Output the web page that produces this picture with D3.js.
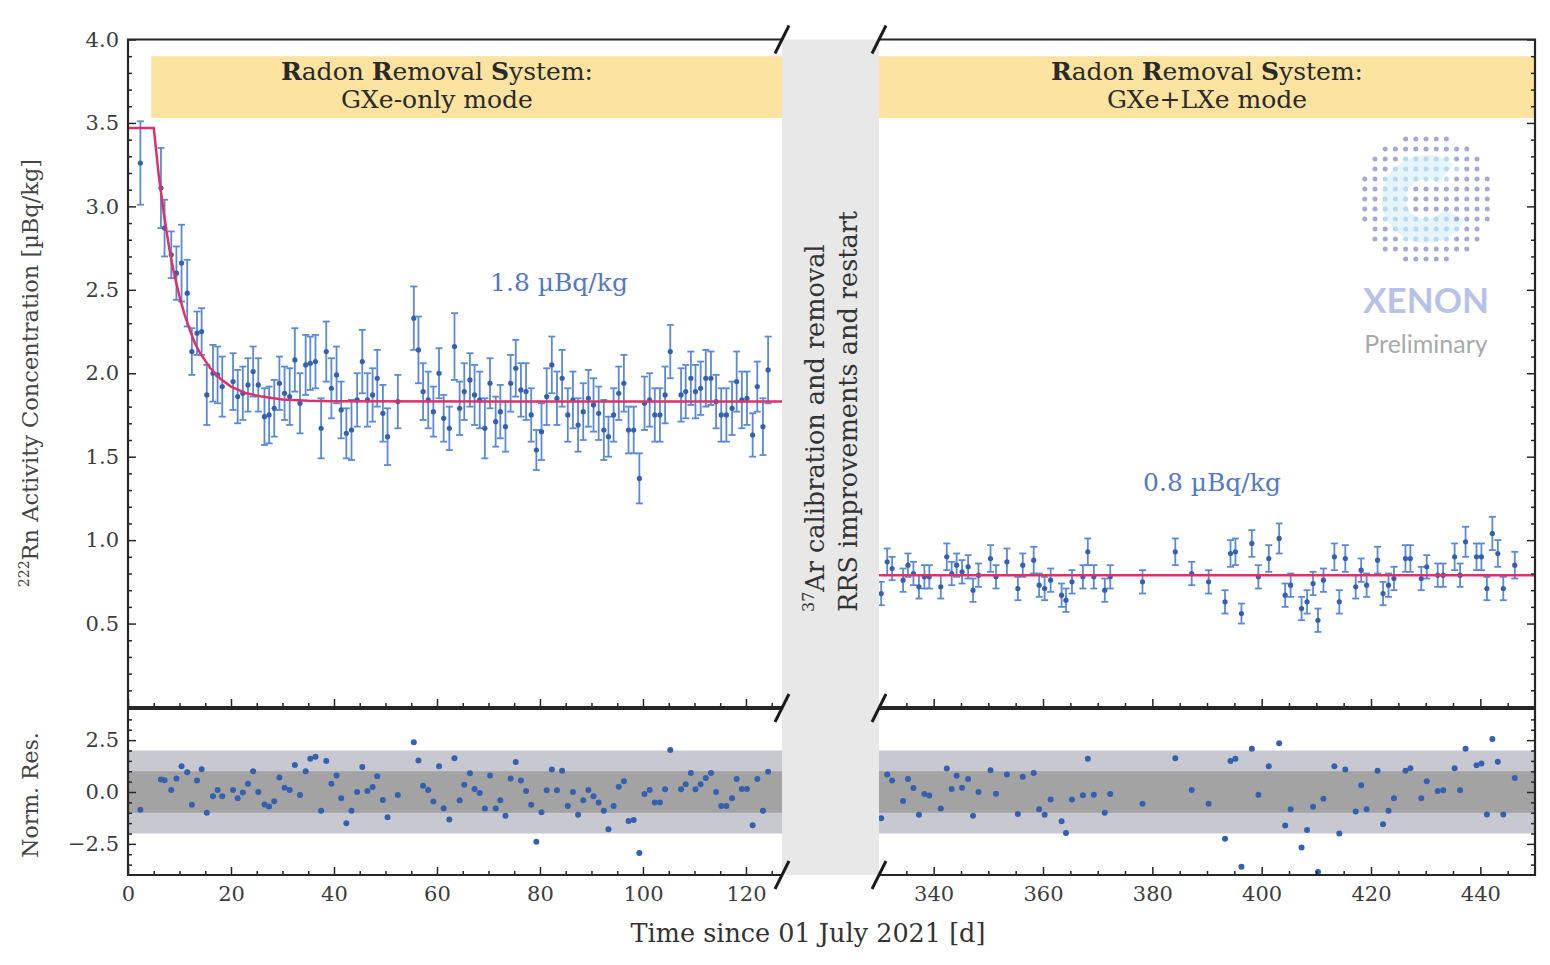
<!DOCTYPE html>
<html lang="en">
<head>
<meta charset="UTF-8">
<title>Rn-222 activity concentration</title>
<script src="https://d3js.org/d3.v7.min.js"></script>
<style>
    body { margin: 0; background: #fff; }
    text { font-family: "DejaVu Serif", serif; }
</style>
</head>
<body>
<script>
// ---- data: [day, value (µBq/kg), error, normalised residual]
const gxeOnly = [
    [2.4,3.26,0.25,-0.86],[6.4,3.11,0.24,0.6],[7.1,2.87,0.17,0.57],[8.4,2.71,0.14,0.1],
    [9.4,2.60,0.16,0.65],[10.4,2.66,0.23,1.24],[11.5,2.48,0.2,0.95],[12.4,2.13,0.14,-0.62],
    [13.4,2.24,0.13,0.55],[14.3,2.25,0.14,1.1],[15.3,1.87,0.18,-1.0],[16.5,2.00,0.17,-0.2],
    [17.4,1.99,0.17,0.1],[18.3,1.92,0.18,-0.2],[20.4,1.95,0.17,0.1],[21.3,1.86,0.16,-0.3],
    [22.3,1.88,0.16,-0.03],[23.3,1.93,0.16,0.4],[24.3,2.01,0.15,1.0],[25.3,1.93,0.16,0.0],
    [26.5,1.74,0.17,-0.6],[27.4,1.75,0.17,-0.7],[28.4,1.79,0.17,-0.45],[29.4,1.94,0.16,0.7],
    [30.4,1.88,0.16,0.2],[31.4,1.86,0.17,0.1],[32.4,2.08,0.19,1.3],[33.4,1.82,0.18,-0.15],
    [34.5,2.05,0.18,1.0],[35.4,2.06,0.16,1.6],[36.4,2.07,0.16,1.7],[37.5,1.67,0.18,-0.9],
    [38.5,2.13,0.18,1.5],[39.5,1.91,0.18,0.4],[40.5,1.99,0.17,0.8],[41.4,1.78,0.17,-0.3],
    [42.4,1.64,0.15,-1.5],[43.4,1.66,0.18,-0.9],[44.5,1.84,0.16,0.0],[45.5,2.07,0.19,1.2],
    [46.5,1.84,0.16,0.05],[47.5,1.87,0.16,0.24],[48.4,1.97,0.17,0.76],[49.5,1.76,0.17,-0.38],
    [50.4,1.62,0.17,-1.22],[52.4,1.83,0.16,-0.14],[55.5,2.33,0.19,2.4],[56.4,2.14,0.2,1.52],
    [57.3,1.89,0.17,0.3],[58.3,1.84,0.17,0.1],[59.3,1.77,0.15,-0.46],[60.4,2.00,0.15,1.24],
    [61.3,1.73,0.14,-0.78],[62.4,1.67,0.13,-1.33],[63.4,2.16,0.2,1.63],[64.4,1.79,0.16,-0.4],
    [65.3,1.89,0.17,0.35],[66.4,1.96,0.16,0.9],[67.3,1.87,0.18,0.15],[68.3,1.84,0.17,-0.05],
    [69.3,1.67,0.18,-0.8],[70.3,1.94,0.15,0.8],[71.4,1.71,0.15,-0.8],[72.3,1.77,0.16,-0.4],
    [73.3,1.68,0.15,-1.14],[74.3,1.94,0.17,0.65],[75.3,2.03,0.17,1.45],[76.3,1.90,0.16,0.56],
    [77.3,1.89,0.17,0.05],[78.3,1.75,0.16,-0.62],[79.3,1.54,0.12,-2.4],[80.3,1.65,0.17,-0.98],
    [81.3,1.86,0.17,0.08],[82.3,2.05,0.17,1.08],[83.3,1.85,0.16,0.08],[84.3,1.97,0.17,1.02],
    [85.4,1.75,0.16,-0.67],[86.4,1.84,0.17,0.0],[87.4,1.69,0.16,-1.1],[88.4,1.77,0.17,-0.4],
    [89.4,1.85,0.17,0.1],[90.4,1.81,0.16,-0.2],[91.4,1.76,0.16,-0.5],[92.4,1.66,0.18,-0.9],
    [93.3,1.62,0.12,-1.8],[94.3,1.75,0.16,-0.67],[95.3,1.88,0.16,0.25],[96.3,1.94,0.17,0.52],
    [97.2,1.66,0.14,-1.4],[98.2,1.66,0.14,-1.35],[99.3,1.37,0.15,-2.94],[100.3,1.82,0.16,-0.1],
    [101.3,1.84,0.16,0.1],[102.3,1.75,0.16,-0.5],[103.3,1.75,0.16,-0.5],[104.3,1.87,0.17,0.13],
    [105.3,2.13,0.16,2.03],[107.4,1.87,0.16,0.13],[108.3,1.89,0.16,0.37],[109.3,1.97,0.16,0.92],
    [110.2,1.89,0.16,0.13],[111.2,1.91,0.16,0.37],[112.2,1.97,0.17,0.68],[113.2,1.97,0.16,0.92],
    [114.2,1.83,0.16,0.0],[115.2,1.75,0.16,-0.67],[116.2,1.75,0.16,-0.67],[117.3,1.79,0.16,-0.3],
    [118.2,1.95,0.18,0.63],[119.2,1.84,0.17,0.15],[120.2,1.85,0.16,0.15],[121.3,1.63,0.13,-1.6],
    [122.2,1.92,0.15,0.63],[123.3,1.68,0.17,-0.9],[124.3,2.02,0.2,0.97]
];

const gxeLxe = [
    [330.4,0.68,0.07,-1.27],[331.5,0.87,0.08,0.84],[332.4,0.83,0.07,0.56],[334.4,0.76,0.07,-0.43],
    [335.3,0.85,0.07,0.63],[336.3,0.80,0.07,0.19],[337.3,0.72,0.07,-1.1],[338.3,0.78,0.07,-0.1],
    [339.2,0.78,0.07,-0.17],[341.3,0.72,0.07,-0.8],[342.4,0.90,0.08,1.13],[343.3,0.80,0.07,0.14],
    [344.2,0.85,0.07,0.78],[345.2,0.81,0.07,0.2],[346.3,0.84,0.07,0.63],[347.2,0.70,0.07,-1.14],
    [348.2,0.79,0.07,0.0],[350.4,0.89,0.08,1.05],[351.4,0.78,0.07,-0.08],[353.4,0.87,0.08,0.84],
    [355.4,0.71,0.07,-1.06],[356.3,0.85,0.07,0.73],[358.3,0.88,0.08,0.92],[359.3,0.73,0.07,-0.83],
    [360.3,0.71,0.07,-1.1],[361.4,0.76,0.07,-0.36],[363.4,0.67,0.07,-1.41],[364.2,0.64,0.07,-1.98],
    [365.3,0.75,0.07,-0.36],[367.3,0.78,0.07,-0.16],[368.2,0.93,0.08,1.6],[369.3,0.78,0.07,-0.13],
    [371.3,0.70,0.07,-1.0],[372.3,0.78,0.07,-0.1],[378.2,0.75,0.07,-0.57],[384.2,0.93,0.08,1.63],
    [387.2,0.80,0.07,0.1],[390.3,0.75,0.07,-0.57],[393.3,0.63,0.07,-2.25],[394.3,0.92,0.08,1.5],
    [395.2,0.93,0.08,1.6],[396.3,0.56,0.06,-3.6],[398.2,0.98,0.08,2.08],[399.4,0.78,0.07,-0.13],
    [401.3,0.89,0.08,1.24],[403.2,1.01,0.09,2.35],[404.3,0.67,0.07,-1.62],[405.3,0.73,0.07,-0.83],
    [407.3,0.59,0.07,-2.68],[408.3,0.63,0.07,-1.83],[409.4,0.74,0.07,-0.71],[410.3,0.52,0.07,-3.85],
    [411.3,0.76,0.07,-0.32],[413.3,0.90,0.08,1.24],[414.2,0.63,0.07,-2.0],[415.3,0.89,0.08,1.08],
    [417.2,0.72,0.07,-0.94],[418.2,0.82,0.07,0.32],[419.2,0.73,0.07,-0.83],[421.2,0.88,0.08,1.02],
    [422.2,0.68,0.07,-1.56],[423.2,0.73,0.07,-0.9],[424.2,0.77,0.07,-0.3],[426.3,0.89,0.08,1.02],
    [427.2,0.89,0.08,1.14],[429.2,0.77,0.07,-0.3],[430.2,0.84,0.07,0.52],[432.2,0.79,0.07,0.05],
    [433.2,0.79,0.07,0.08],[435.3,0.90,0.08,1.14],[436.3,0.79,0.07,0.08],[437.3,0.99,0.09,2.08],
    [439.3,0.90,0.08,1.29],[440.2,0.90,0.08,1.37],[441.2,0.71,0.07,-1.08],[442.2,1.04,0.1,2.56],
    [443.2,0.92,0.08,1.46],[444.2,0.71,0.07,-1.08],[446.3,0.85,0.08,0.68]
];

// fitted model curves
const fitLeft = [[0,3.47],[5,3.47],[6,3.18],[7,2.95],[8,2.75],[9,2.59],[10,2.46],[11,2.35],
    [12,2.26],[13,2.18],[14,2.12],[16,2.03],[18,1.965],[20,1.92],[23,1.88],[26,1.86],
    [30,1.843],[35,1.835],[40,1.832],[127,1.83]];
const fitRight = [[330,0.79],[450,0.79]];

const leftTicks = [0, 20, 40, 60, 80, 100, 120];
const rightTicks = [340, 360, 380, 400, 420, 440];
const yTicks = [0.5, 1.0, 1.5, 2.0, 2.5, 3.0, 3.5, 4.0];
const resTicks = [-2.5, 0, 2.5];

// ---- layout
const W = 1550, H = 965;
const svg = d3.select("body").append("svg").attr("width", W).attr("height", H);

const xL = d3.scaleLinear().domain([0, 127]).range([128, 782]);
const xR = d3.scaleLinear().domain([330, 450]).range([879, 1535]);
const yM = d3.scaleLinear().domain([0, 4]).range([707, 39.5]);
const yRes = d3.scaleLinear().domain([-4, 4]).range([875, 709]);

const blue = "#3560b0", barBlue = "#5a8ad6", red = "#e0306a", ink = "#262626";

// residual bands
[[xL, 0, 127], [xR, 330, 450]].forEach(([x, a, b]) => {
    svg.append("rect").attr("x", x(a)).attr("width", x(b) - x(a))
        .attr("y", yRes(2)).attr("height", yRes(-2) - yRes(2)).attr("fill", "#c8c9d0");
    svg.append("rect").attr("x", x(a)).attr("width", x(b) - x(a))
        .attr("y", yRes(1)).attr("height", yRes(-1) - yRes(1)).attr("fill", "#a3a3a3");
});

// yellow mode bands
const bandTop = 3.9, bandBot = 3.53;
[[xL, 4.5, 127, "GXe-only mode", 437], [xR, 330, 450, "GXe+LXe mode", 1207]].forEach(([x, a, b, mode, cx]) => {
    svg.append("rect").attr("x", x(a)).attr("width", x(b) - x(a))
        .attr("y", yM(bandTop)).attr("height", yM(bandBot) - yM(bandTop)).attr("fill", "#fde3a0");
    const t = svg.append("text").attr("x", cx).attr("y", 80).attr("text-anchor", "middle")
        .attr("font-size", 25).attr("fill", "#2a2a2a");
    t.append("tspan").attr("font-weight", "bold").text("R");
    t.append("tspan").text("adon ");
    t.append("tspan").attr("font-weight", "bold").text("R");
    t.append("tspan").text("emoval ");
    t.append("tspan").attr("font-weight", "bold").text("S");
    t.append("tspan").text("ystem:");
    svg.append("text").attr("x", cx).attr("y", 108).attr("text-anchor", "middle")
        .attr("font-size", 25).attr("fill", "#2a2a2a").text(mode);
});

// XENON logo
const logo = svg.append("g").attr("transform", "translate(1426,199)");
logo.append("path")
    .attr("d", d3.arc()({innerRadius: 20, outerRadius: 44, startAngle: 0.5, endAngle: 2 * Math.PI - 0.9}))
    .attr("transform", "rotate(90)")
    .attr("fill", "#e6f4fb");
for (let j = -6; j <= 6; j++) {
    for (let i = -6; i <= 6; i++) {
        const r = Math.hypot(i, j);
        if (r > 6.6) continue;
        const ang = Math.atan2(j, i) * 180 / Math.PI;
        const inC = r > 1.9 && r < 4.5 && !(ang > -35 && ang < 45);
        logo.append("circle").attr("cx", i * 10.2).attr("cy", j * 10)
            .attr("r", 2.5).attr("fill", inC ? "#b8d9ef" : "#a6a9d5");
    }
}
svg.append("text").attr("x", 1426).attr("y", 313).attr("text-anchor", "middle")
    .style("font-family", "Lato, 'Open Sans', sans-serif").attr("font-weight", 700)
    .attr("font-size", 35).attr("fill", "#b7c2e6").text("XENON");
svg.append("text").attr("x", 1426).attr("y", 353).attr("text-anchor", "middle")
    .style("font-family", "Lato, 'Open Sans', sans-serif")
    .attr("font-size", 25).attr("fill", "#a9a9a9").text("Preliminary");

// error bars, markers and residuals
function drawSeries(data, x) {
    const g = svg.append("g");
    const pts = g.selectAll("g").data(data).join("g");
    pts.append("line")
        .attr("x1", d => x(d[0])).attr("x2", d => x(d[0]))
        .attr("y1", d => yM(d[1] - d[2])).attr("y2", d => yM(d[1] + d[2]))
        .attr("stroke", barBlue).attr("stroke-width", 1.8);
    [-1, 1].forEach(s => {
        pts.append("line")
            .attr("x1", d => x(d[0]) - 3.5).attr("x2", d => x(d[0]) + 3.5)
            .attr("y1", d => yM(d[1] + s * d[2])).attr("y2", d => yM(d[1] + s * d[2]))
            .attr("stroke", barBlue).attr("stroke-width", 1.8);
    });
    pts.append("circle").attr("cx", d => x(d[0])).attr("cy", d => yM(d[1]))
        .attr("r", 2.6).attr("fill", blue);
    svg.append("g").selectAll("circle").data(data).join("circle")
        .attr("cx", d => x(d[0])).attr("cy", d => yRes(Math.max(-3.9, d[3])))
        .attr("r", 3).attr("fill", blue);
}
drawSeries(gxeOnly, xL);
drawSeries(gxeLxe, xR);

// fit lines
const fitLine = x => d3.line().x(d => x(d[0])).y(d => yM(d[1]));
svg.append("path").datum(fitLeft).attr("d", fitLine(xL))
    .attr("fill", "none").attr("stroke", red).attr("stroke-width", 2.5);
svg.append("path").datum(fitRight).attr("d", fitLine(xR))
    .attr("fill", "none").attr("stroke", red).attr("stroke-width", 2.5);

// annotations
svg.append("text").attr("x", 559).attr("y", 291).attr("text-anchor", "middle")
    .attr("font-size", 25).attr("fill", "#5479c4").text("1.8 µBq/kg");
svg.append("text").attr("x", 1212).attr("y", 491).attr("text-anchor", "middle")
    .attr("font-size", 25).attr("fill", "#5479c4").text("0.8 µBq/kg");

// gap between the two periods
svg.append("rect").attr("x", 782).attr("y", 39.5).attr("width", 97).attr("height", 835.5)
    .attr("fill", "#e8e8e8");
const gapText = svg.append("g").attr("font-size", 25.5).attr("fill", "#333");
const l1 = gapText.append("text").attr("transform", "translate(824,612) rotate(-90)");
l1.append("tspan").attr("font-size", 16).attr("dy", -10).text("37");
l1.append("tspan").attr("dy", 10).text("Ar calibration and removal");
gapText.append("text").attr("transform", "translate(857,612) rotate(-90)")
    .text("RRS improvements and restart");

// axes and ticks
function styleAxis(g) {
    g.select(".domain").remove();
    g.selectAll(".tick line").attr("stroke", ink).attr("stroke-width", 1.5);
    g.selectAll(".tick text").attr("font-family", "DejaVu Serif, serif")
        .attr("font-size", 21).attr("fill", "#3c3c3c");
}
const minor = (a, b, step, majors) => d3.range(a, b + 1e-9, step)
    .filter(v => !majors.some(m => Math.abs(m - v) < 1e-6));

// x ticks at bottom of main and residual panels (pointing inwards)
[[xL, leftTicks, minor(0, 125, 5, leftTicks)], [xR, rightTicks, minor(335, 445, 5, rightTicks)]]
    .forEach(([x, majors, minors]) => {
        [[707, false], [875, true]].forEach(([y, labels]) => {
            svg.append("g").attr("transform", `translate(0,${y})`)
                .call(d3.axisBottom(x).tickValues(majors).tickSize(-8).tickPadding(11)
                    .tickFormat(labels ? d3.format("d") : ""))
                .call(styleAxis);
            svg.append("g").attr("transform", `translate(0,${y})`)
                .call(d3.axisBottom(x).tickValues(minors).tickSize(-4).tickFormat(""))
                .call(styleAxis);
        });
    });

// y ticks: left side of left panels, right side of right panels
svg.append("g").attr("transform", "translate(128,0)")
    .call(d3.axisLeft(yM).tickValues(yTicks).tickSize(-8).tickPadding(9).tickFormat(d3.format(".1f")))
    .call(styleAxis);
svg.append("g").attr("transform", "translate(128,0)")
    .call(d3.axisLeft(yM).tickValues(minor(0.1, 3.9, 0.1, yTicks)).tickSize(-4).tickFormat(""))
    .call(styleAxis);
svg.append("g").attr("transform", "translate(1535,0)")
    .call(d3.axisRight(yM).tickValues(yTicks).tickSize(-8).tickFormat(""))
    .call(styleAxis);
svg.append("g").attr("transform", "translate(1535,0)")
    .call(d3.axisRight(yM).tickValues(minor(0.1, 3.9, 0.1, yTicks)).tickSize(-4).tickFormat(""))
    .call(styleAxis);

svg.append("g").attr("transform", "translate(128,0)")
    .call(d3.axisLeft(yRes).tickValues(resTicks).tickSize(-8).tickPadding(9).tickFormat(d3.format(".1f")))
    .call(styleAxis);
svg.append("g").attr("transform", "translate(128,0)")
    .call(d3.axisLeft(yRes).tickValues(minor(-3.5, 3.5, 0.5, resTicks)).tickSize(-4).tickFormat(""))
    .call(styleAxis);
svg.append("g").attr("transform", "translate(1535,0)")
    .call(d3.axisRight(yRes).tickValues(resTicks).tickSize(-8).tickFormat(""))
    .call(styleAxis);
svg.append("g").attr("transform", "translate(1535,0)")
    .call(d3.axisRight(yRes).tickValues(minor(-3.5, 3.5, 0.5, resTicks)).tickSize(-4).tickFormat(""))
    .call(styleAxis);

// spines
const spine = svg.append("g").attr("fill", "none").attr("stroke", ink).attr("stroke-width", 2.2);
spine.append("path").attr("d", `M782,${yM(4)}H128V707H782`);
spine.append("path").attr("d", `M879,${yM(4)}H1535V707H879`);
spine.append("path").attr("d", "M782,709H128V875H782");
spine.append("path").attr("d", "M879,709H1535V875H879");

// break marks
const breaks = svg.append("g").attr("stroke", "#1a1a1a").attr("stroke-width", 3);
[[782, yM(4)], [879, yM(4)], [782, 708], [879, 708], [782, 875], [879, 875]].forEach(([x, y]) => {
    breaks.append("line").attr("x1", x - 7).attr("y1", y + 14).attr("x2", x + 7).attr("y2", y - 14);
});

// axis titles
const yLab = svg.append("text").attr("transform", "translate(38,373) rotate(-90)")
    .attr("text-anchor", "middle").attr("font-size", 22.5).attr("fill", "#444");
yLab.append("tspan").attr("font-size", 14).attr("dy", -9).text("222");
yLab.append("tspan").attr("dy", 9).text("Rn Activity Concentration [µBq/kg]");
svg.append("text").attr("transform", "translate(38,795) rotate(-90)")
    .attr("text-anchor", "middle").attr("font-size", 22).attr("fill", "#444").text("Norm. Res.");
svg.append("text").attr("x", 808).attr("y", 942).attr("text-anchor", "middle")
    .attr("font-size", 25.5).attr("fill", "#333").text("Time since 01 July 2021 [d]");
</script>
</body>
</html>
